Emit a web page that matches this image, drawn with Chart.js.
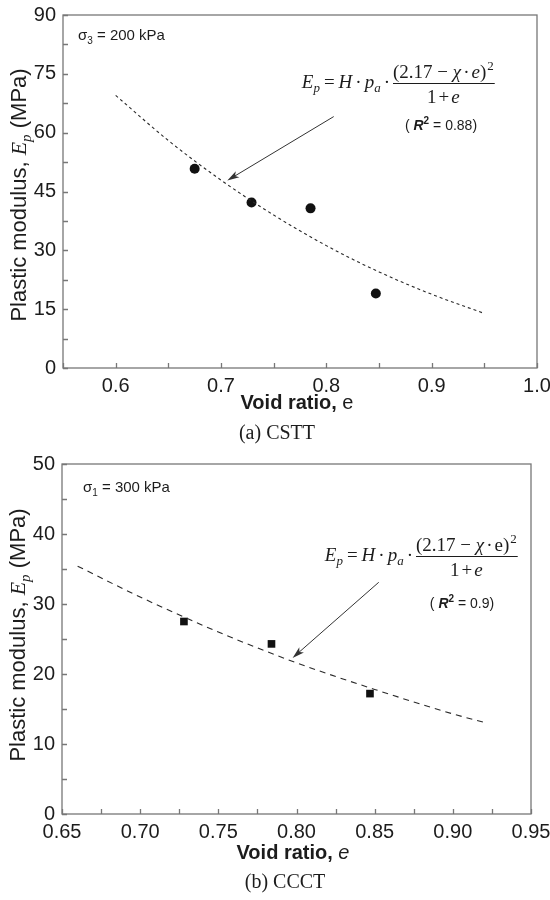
<!DOCTYPE html>
<html>
<head>
<meta charset="utf-8">
<title>Plastic modulus vs void ratio</title>
<script src="https://cdn.jsdelivr.net/npm/chart.js@4.4.1/dist/chart.umd.min.js"></script>
<style>
  body { margin: 0; background: #fff; }
  canvas { display: block; }
</style>
</head>
<body>
<canvas id="cstt" width="550" height="450"></canvas>
<canvas id="ccct" width="550" height="450"></canvas>
<script>
// (a) CSTT, sigma3 = 200 kPa
const voidA = [0.675, 0.729, 0.785, 0.847];
const modA = [50.8, 42.2, 40.7, 19.0];
const fitVoidA = [0.60, 0.65, 0.70, 0.75, 0.80, 0.85, 0.90, 0.95];
const fitModA = [69.5, 58.0, 47.9, 39.0, 31.2, 24.5, 18.8, 13.9];
const xTicksA = [0.6, 0.7, 0.8, 0.9, 1.0];
const xLabelsA = ['0.6', '0.7', '0.8', '0.9', '1.0'];
const yTicksA = [0, 15, 30, 45, 60, 75, 90];
const yLabelsA = ['0', '15', '30', '45', '60', '75', '90'];

// (b) CCCT, sigma1 = 300 kPa
const voidB = [0.728, 0.784, 0.847];
const modB = [27.5, 24.3, 17.2];
const fitVoidB = [0.66, 0.70, 0.75, 0.80, 0.85, 0.90, 0.92];
const fitModB = [35.4, 31.0, 26.0, 21.6, 17.8, 14.3, 13.1];
const xTicksB = [0.65, 0.70, 0.75, 0.80, 0.85, 0.90, 0.95];
const xLabelsB = ['0.65', '0.70', '0.75', '0.80', '0.85', '0.90', '0.95'];
const yTicksB = [0, 10, 20, 30, 40, 50];
const yLabelsB = ['0', '10', '20', '30', '40', '50'];

const SANS = '"Liberation Sans", Arial, sans-serif';
const SERIF = '"Liberation Serif", "Times New Roman", serif';
const INK = '#1c1c1c';

// draw a row of differently styled text pieces, return the end x
function drawRuns(ctx, parts, x, y) {
  parts.forEach(p => {
    ctx.font = p.f;
    x += p.padL || 0;
    ctx.fillText(p.t, x, y + (p.dy || 0));
    x += ctx.measureText(p.t).width + (p.padR || 0);
  });
  return x;
}
function runsWidth(ctx, parts) {
  let w = 0;
  parts.forEach(p => {
    ctx.font = p.f;
    w += (p.padL || 0) + ctx.measureText(p.t).width + (p.padR || 0);
  });
  return w;
}

const mi = s => 'italic ' + s + 'px ' + SERIF;
const mr = s => s + 'px ' + SERIF;

function equation(ctx, fracLeft, bar, uprightE) {
  const prefix = [
    { t: 'E', f: mi(19) }, { t: 'p', f: mi(13), dy: 4 },
    { t: '=', f: mr(19), padL: 4, padR: 4 }, { t: 'H', f: mi(19) },
    { t: '·', f: mr(19), padL: 3, padR: 3 }, { t: 'p', f: mi(19) }, { t: 'a', f: mi(13), dy: 4 },
    { t: '·', f: mr(19), padL: 3, padR: 3 }
  ];
  const numer = [
    { t: '(2.17 − ', f: mr(19) }, { t: 'χ', f: mi(19) },
    { t: '·', f: mr(19), padL: 2, padR: 2 },
    { t: 'e', f: uprightE ? mr(19) : mi(19) }, { t: ')', f: mr(19) },
    { t: '2', f: mr(13), dy: -8, padL: 1 }
  ];
  const denom = [
    { t: '1', f: mr(19) }, { t: '+', f: mr(19), padL: 2, padR: 2 }, { t: 'e', f: mi(19) }
  ];
  const nw = runsWidth(ctx, numer);
  const dw = runsWidth(ctx, denom);
  drawRuns(ctx, prefix, fracLeft - runsWidth(ctx, prefix), bar + 5);
  drawRuns(ctx, numer, fracLeft, bar - 5);
  drawRuns(ctx, denom, fracLeft + (nw - dw) / 2, bar + 20);
  ctx.beginPath();
  ctx.lineWidth = 1;
  ctx.moveTo(fracLeft, bar + 0.5);
  ctx.lineTo(fracLeft + nw + 1, bar + 0.5);
  ctx.stroke();
}

const decor = {
  id: 'decor',
  afterDraw(chart, args, o) {
    const { ctx, chartArea: a, scales: { x, y } } = chart;
    ctx.save();
    ctx.fillStyle = INK;
    ctx.strokeStyle = INK;
    ctx.textBaseline = 'alphabetic';

    // frame and inward ticks
    ctx.strokeStyle = '#777';
    ctx.lineWidth = 1.3;
    ctx.strokeRect(a.left, a.top, a.right - a.left, a.bottom - a.top);
    ctx.beginPath();
    const nx = Math.round((x.max - x.min) / o.xStep);
    for (let i = 0; i <= nx; i++) {
      const px = Math.round(x.getPixelForValue(x.min + i * o.xStep)) + 0.5;
      ctx.moveTo(px, a.bottom);
      ctx.lineTo(px, a.bottom - 5);
    }
    const ny = Math.round((y.max - y.min) / o.yStep);
    for (let i = 0; i <= ny; i++) {
      const py = Math.round(y.getPixelForValue(y.min + i * o.yStep)) + 0.5;
      ctx.moveTo(a.left, py);
      ctx.lineTo(a.left + 5, py);
    }
    ctx.stroke();

    // arrow pointing at the fitted curve
    const x0 = x.getPixelForValue(o.arrow[0]), y0 = y.getPixelForValue(o.arrow[1]);
    const x1 = x.getPixelForValue(o.arrow[2]), y1 = y.getPixelForValue(o.arrow[3]);
    const ang = Math.atan2(y1 - y0, x1 - x0);
    ctx.strokeStyle = '#333';
    ctx.fillStyle = '#333';
    ctx.lineWidth = 1;
    ctx.beginPath();
    ctx.moveTo(x0, y0);
    ctx.lineTo(x1 - 8 * Math.cos(ang), y1 - 8 * Math.sin(ang));
    ctx.stroke();
    ctx.beginPath();
    ctx.moveTo(x1, y1);
    ctx.lineTo(x1 - 12 * Math.cos(ang) + 3.5 * Math.sin(ang), y1 - 12 * Math.sin(ang) - 3.5 * Math.cos(ang));
    ctx.lineTo(x1 - 9 * Math.cos(ang), y1 - 9 * Math.sin(ang));
    ctx.lineTo(x1 - 12 * Math.cos(ang) - 3.5 * Math.sin(ang), y1 - 12 * Math.sin(ang) + 3.5 * Math.cos(ang));
    ctx.closePath();
    ctx.fill();

    ctx.fillStyle = INK;
    ctx.strokeStyle = INK;

    // stress level label
    drawRuns(ctx, [
      { t: 'σ', f: '15px ' + SANS },
      { t: o.sigmaSub, f: '10px ' + SANS, dy: 4 },
      { t: ' = ' + o.sigmaVal, f: '15px ' + SANS }
    ], o.sigmaPos[0], o.sigmaPos[1]);

    // fitted relation and R squared
    equation(ctx, o.fracLeft, o.fracBar, o.uprightE);
    const r2 = [
      { t: '( ', f: '14px ' + SANS },
      { t: 'R', f: 'italic bold 14px ' + SANS },
      { t: '2', f: 'bold 10px ' + SANS, dy: -6 },
      { t: ' = ' + o.r2 + ')', f: '14px ' + SANS }
    ];
    drawRuns(ctx, r2, o.r2Pos[0] - runsWidth(ctx, r2) / 2, o.r2Pos[1] + 5);

    // y axis title
    const yt = [
      { t: 'Plastic modulus, ', f: '22px ' + SANS },
      { t: 'E', f: 'italic 22px ' + SERIF },
      { t: 'p', f: 'italic 15px ' + SERIF, dy: 5 },
      { t: ' (MPa)', f: '22px ' + SANS }
    ];
    ctx.save();
    ctx.translate(o.yTitle[0], o.yTitle[1]);
    ctx.rotate(-Math.PI / 2);
    drawRuns(ctx, yt, -runsWidth(ctx, yt) / 2, 8);
    ctx.restore();

    // x axis title
    const xt = [
      { t: 'Void ratio, ', f: 'bold 20px ' + SANS },
      { t: 'e', f: (o.italicE ? 'italic ' : '') + '20px ' + SANS }
    ];
    drawRuns(ctx, xt, o.xTitle[0] - runsWidth(ctx, xt) / 2, o.xTitle[1] + 7);

    // panel caption
    ctx.font = '20px ' + SERIF;
    ctx.textAlign = 'center';
    ctx.fillText(o.caption, o.capPos[0], o.capPos[1] + 7);
    ctx.restore();
  }
};

function build(id, d) {
  return new Chart(document.getElementById(id), {
    type: 'scatter',
    data: {
      datasets: [
        {
          data: d.fitX.map((v, i) => ({ x: v, y: d.fitY[i] })),
          showLine: true,
          pointRadius: 0,
          borderColor: '#2a2a2a',
          borderWidth: 1.1,
          borderDash: d.dash,
          cubicInterpolationMode: 'monotone'
        },
        {
          data: d.ptX.map((v, i) => ({ x: v, y: d.ptY[i] })),
          pointStyle: d.marker,
          pointRadius: d.markerR,
          backgroundColor: '#111',
          borderColor: '#111',
          borderWidth: 0
        }
      ]
    },
    options: {
      responsive: false,
      animation: false,
      layout: { padding: d.pad },
      plugins: { legend: { display: false }, tooltip: { enabled: false }, decor: d.decor },
      scales: {
        x: {
          type: 'linear', min: d.xMin, max: d.xMax,
          afterBuildTicks: s => { s.ticks = d.xTicks.map(v => ({ value: v })); },
          afterFit: s => { s.height = d.xAxisH; s.paddingLeft = 0; s.paddingRight = 0; },
          ticks: {
            callback: (v, i) => d.xLabels[i],
            font: { family: SANS, size: 20 }, color: INK,
            padding: 6, maxRotation: 0, autoSkip: false
          },
          grid: { display: false, drawTicks: false },
          border: { display: false }
        },
        y: {
          min: d.yMin, max: d.yMax,
          afterBuildTicks: s => { s.ticks = d.yTicks.map(v => ({ value: v })); },
          afterFit: s => { s.width = d.yAxisW; s.paddingTop = 0; s.paddingBottom = 0; },
          ticks: {
            callback: (v, i) => d.yLabels[i],
            font: { family: SANS, size: 20 }, color: INK,
            padding: 7, autoSkip: false
          },
          grid: { display: false, drawTicks: false },
          border: { display: false }
        }
      }
    },
    plugins: [decor]
  });
}

build('cstt', {
  ptX: voidA, ptY: modA, fitX: fitVoidA, fitY: fitModA,
  xTicks: xTicksA, xLabels: xLabelsA, yTicks: yTicksA, yLabels: yLabelsA,
  xMin: 0.55, xMax: 1.0, yMin: 0, yMax: 90,
  dash: [3, 3], marker: 'circle', markerR: 5,
  pad: { left: 0, right: 13, top: 15, bottom: 0 }, xAxisH: 82, yAxisW: 63,
  decor: {
    xStep: 0.05, yStep: 7.5,
    arrow: [0.807, 64.1, 0.706, 47.8],
    sigmaSub: '3', sigmaVal: '200 kPa', sigmaPos: [78, 40],
    fracLeft: 393, fracBar: 83, uprightE: false,
    r2: '0.88', r2Pos: [441, 125],
    yTitle: [18, 195], xTitle: [297, 402], italicE: false,
    caption: '(a) CSTT', capPos: [277, 432]
  }
});

build('ccct', {
  ptX: voidB, ptY: modB, fitX: fitVoidB, fitY: fitModB,
  xTicks: xTicksB, xLabels: xLabelsB, yTicks: yTicksB, yLabels: yLabelsB,
  xMin: 0.65, xMax: 0.95, yMin: 0, yMax: 50,
  dash: [6, 5], marker: 'rect', markerR: 5.4,
  pad: { left: 0, right: 19, top: 14, bottom: 0 }, xAxisH: 86, yAxisW: 62,
  decor: {
    xStep: 0.025, yStep: 5,
    arrow: [0.8526, 33.1, 0.7975, 22.3],
    sigmaSub: '1', sigmaVal: '300 kPa', sigmaPos: [83, 42],
    fracLeft: 416, fracBar: 106, uprightE: true,
    r2: '0.9', r2Pos: [462, 153],
    yTitle: [17, 185], xTitle: [293, 402], italicE: true,
    caption: '(b) CCCT', capPos: [285, 431]
  }
});
</script>
</body>
</html>
